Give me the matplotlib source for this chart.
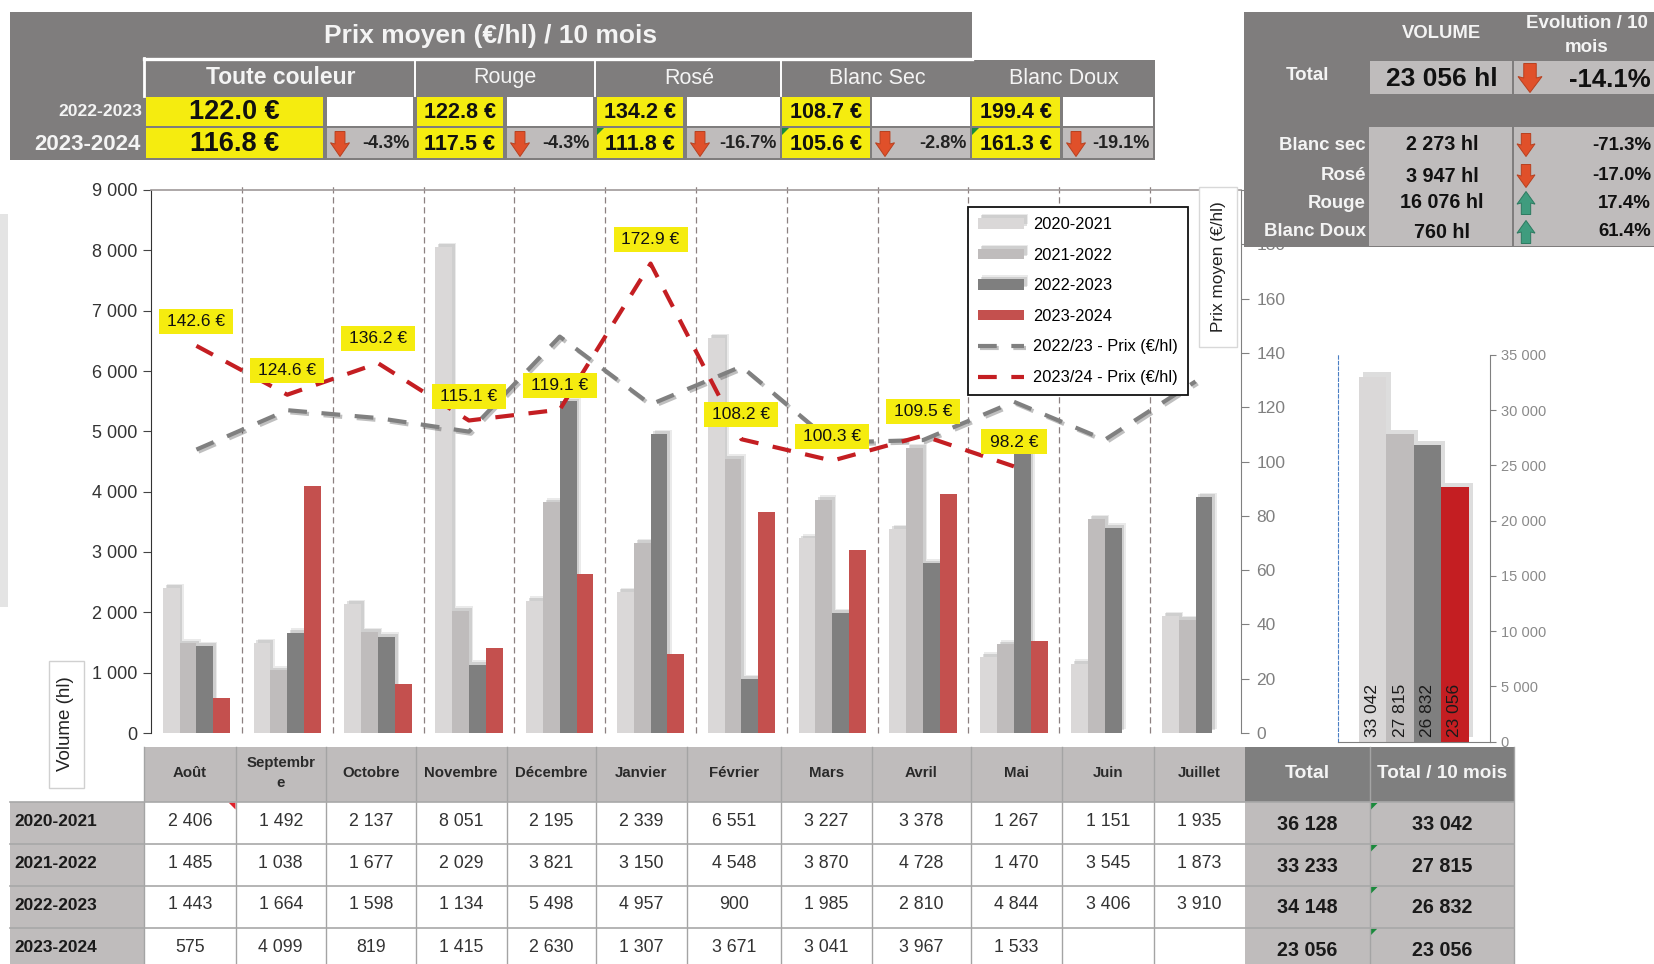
import numpy as np
import matplotlib
matplotlib.use('Agg')
import matplotlib.pyplot as plt
import matplotlib.patheffects as pe
from matplotlib.patches import Rectangle, Polygon
from matplotlib.transforms import Affine2D

plt.rcParams['font.family'] = ['Liberation Sans', 'DejaVu Sans']

W, H = 1654, 964

months = ['Août', 'Septembre', 'Octobre', 'Novembre', 'Décembre', 'Janvier', 'Février',
          'Mars', 'Avril', 'Mai', 'Juin', 'Juillet']
seasons = ['2020-2021', '2021-2022', '2022-2023', '2023-2024']
vol_2021 = [2406, 1492, 2137, 8051, 2195, 2339, 6551, 3227, 3378, 1267, 1151, 1935]
vol_2122 = [1485, 1038, 1677, 2029, 3821, 3150, 4548, 3870, 4728, 1470, 3545, 1873]
vol_2223 = [1443, 1664, 1598, 1134, 5498, 4957, 900, 1985, 2810, 4844, 3406, 3910]
vol_2324 = [575, 4099, 819, 1415, 2630, 1307, 3671, 3041, 3967, 1533]
prix_2223 = [104.4, 118.9, 116, 111, 146, 121, 135, 107, 107.9, 122, 108, 129.5]
prix_2324 = [142.6, 124.6, 136.2, 115.1, 119.1, 172.9, 108.2, 100.3, 109.5, 98.2]
totaux = [36128, 33233, 34148, 23056]
totaux_10m = [33042, 27815, 26832, 23056]

couleurs = ['Toute couleur', 'Rouge', 'Rosé', 'Blanc Sec', 'Blanc Doux']
prix_moy_2223 = [122.0, 122.8, 134.2, 108.7, 199.4]
prix_moy_2324 = [116.8, 117.5, 111.8, 105.6, 161.3]
evol_prix = [-4.3, -4.3, -16.7, -2.8, -19.1]

vol_labels = ['Blanc sec', 'Rosé', 'Rouge', 'Blanc Doux']
vol_couleurs = ['2 273 hl', '3 947 hl', '16 076 hl', '760 hl']
evol_couleurs = [-71.3, -17.0, 17.4, 61.4]

DARK = '#7f7d7d'
LIGHT = '#bfbcbc'
PALE = '#dad8d8'
MID = '#7f7f7f'
BRICK = '#c4504e'
RED = '#c41e22'
YELLOW = '#f5ec0f'
TXT = '#2a2a2a'


def sp(v):
    return f'{v:,}'.replace(',', ' ')


def axes_px(x0, y0, x1, y1, **kw):
    return fig.add_axes([x0 / W, 1 - y1 / H, (x1 - x0) / W, (y1 - y0) / H], **kw)


fig = plt.figure(figsize=(W / 100, H / 100), dpi=100, facecolor='white')

# graphique principal
ax = axes_px(151, 190, 1241, 733)
x = np.arange(12)
bw = 0.185
shadow = [pe.SimplePatchShadow(offset=(3, 3), alpha=0.12, shadow_rgbFace='#555555'),
          pe.SimplePatchShadow(offset=(2, 2), alpha=0.18, shadow_rgbFace='#555555'),
          pe.Normal()]
ax.bar(x - 1.5 * bw, vol_2021, bw, color=PALE, label=seasons[0], path_effects=shadow)
ax.bar(x - 0.5 * bw, vol_2122, bw, color=LIGHT, label=seasons[1], path_effects=shadow)
ax.bar(x + 0.5 * bw, vol_2223, bw, color=MID, label=seasons[2], path_effects=shadow)
ax.bar(x[:len(vol_2324)] + 1.5 * bw, vol_2324, bw, color=BRICK, label=seasons[3])
ax.set_xlim(-0.5, 11.5)
ax.set_ylim(0, 9000)
ax.set_yticks(range(0, 9001, 1000))
ax.yaxis.set_major_formatter(lambda v, p: sp(int(v)))
ax.set_xticks([])
ax.tick_params(axis='y', labelsize=13, labelcolor='#333333', color='#444444', length=6, pad=4)
ax.vlines(x[1:] - 0.5, 0, 9080, color='#8c8080', lw=0.9, ls=(0, (5, 3)), clip_on=False)
for s in ['right', 'bottom']:
    ax.spines[s].set_visible(False)
ax.spines['top'].set_color('#a09a9a')
ax.spines['top'].set_linewidth(1.2)
ax.spines['left'].set_color('#333333')

ax2 = ax.twinx()
ax2.set_ylim(0, 200)
ax2.set_yticks(range(0, 201, 20))
ax2.tick_params(axis='y', labelsize=12.5, labelcolor='#808080', color='#808080', length=6, pad=5)
for s in ['top', 'left', 'bottom']:
    ax2.spines[s].set_visible(False)
ax2.spines['right'].set_color('#808080')
line_fx = [pe.SimpleLineShadow(offset=(1.5, -1.5), alpha=0.25), pe.Normal()]
ax2.plot(x, prix_2223, color='#808080', lw=3, ls=(0, (4.5, 3.5)),
         label='2022/23 - Prix (€/hl)', path_effects=line_fx)
ax2.plot(x[:len(prix_2324)], prix_2324, color=RED, lw=3, ls=(0, (4.5, 3.5)),
         label='2023/24 - Prix (€/hl)')

# etiquettes de prix, decalees au dessus de chaque point
for i, v in enumerate(prix_2324):
    px, py = ax2.transData.transform((i, v))
    bx = 37 if v >= 100 else 33
    ax2.add_patch(Rectangle((px - bx, py + 12), 2 * bx, 25, color=YELLOW, lw=0, zorder=5,
                            transform=Affine2D(), clip_on=False))
    ax2.annotate(f'{v} €', (i, v), xytext=(0, 17.5), textcoords='offset points', ha='center',
                 va='center', fontsize=12.5, color='#111111', zorder=6)

h1, l1 = ax.get_legend_handles_labels()
h2, l2 = ax2.get_legend_handles_labels()
leg = ax2.legend(h1 + h2, l1 + l2, loc='upper left', bbox_to_anchor=(968 / W, 1 - 207 / H),
                 bbox_transform=fig.transFigure, borderaxespad=0, fontsize=11.8, frameon=True,
                 fancybox=False, framealpha=1, edgecolor='#111111', handlelength=2.8,
                 handleheight=0.6, labelspacing=0.95, borderpad=0.62, handletextpad=0.55)
leg.get_frame().set_linewidth(1.3)
leg.set_zorder(10)

# petit graphique des totaux
ax3 = axes_px(1338, 355, 1489.5, 741.5)
ax3.patch.set_alpha(0)
xt = np.arange(4)
ax3.bar(xt, totaux_10m, 1.0, color=[PALE, LIGHT, MID, RED], path_effects=[
    pe.SimplePatchShadow(offset=(3, 3), alpha=0.2, shadow_rgbFace='#555555'), pe.Normal()])
ax3.set_xlim(-1.27, 4.26)
ax3.set_ylim(0, 35000)
ax3.set_xticks([])
ax3.set_yticks(range(0, 35001, 5000))
ax3.yaxis.set_major_formatter(lambda v, p: sp(int(v)))
ax3.yaxis.tick_right()
ax3.tick_params(axis='y', labelsize=10.5, labelcolor='#8a8a8a', color='#808080', length=4, pad=4)
ax3.spines['top'].set_visible(False)
ax3.spines['right'].set_color('#808080')
ax3.spines['bottom'].set_color('#808080')
ax3.spines['left'].set_color('#4a7fc4')
ax3.spines['left'].set_linestyle((0, (3, 2)))
for i, v in enumerate(totaux_10m):
    ax3.text(i, 450, sp(v), rotation=90, ha='center', va='bottom', fontsize=12.5, color='#1a1a1a')

# calque en pixels pour les tableaux
ov = fig.add_axes([0, 0, 1, 1], zorder=20)
ov.set_xlim(0, W)
ov.set_ylim(H, 0)
ov.axis('off')
ov.patch.set_alpha(0)


def rect(x0, y0, x1, y1, color, ec='none', lw=0):
    ov.add_patch(Rectangle((x0, y0), x1 - x0, y1 - y0, facecolor=color, edgecolor=ec, linewidth=lw))


def label(xp, yp, s, size=13, color=TXT, bold=False, ha='center', **kw):
    ov.text(xp, yp, s, fontsize=size, color=color, ha=ha, va='center',
            fontweight='bold' if bold else 'normal', **kw)


def arrow(cx, cy, w, h, up=False):
    pts = np.array([(-0.26, -0.5), (0.26, -0.5), (0.26, 0.0), (0.5, -0.05), (0, 0.5), (-0.5, -0.05), (-0.26, 0.0)])
    if up:
        pts = pts * [1, -1]
    col, ec = ('#3f9c7e', '#2c7a60') if up else ('#e0502a', '#b8401f')
    ov.add_patch(Polygon(np.c_[cx + pts[:, 0] * w, cy + pts[:, 1] * h], closed=True, facecolor=col,
                         edgecolor=ec, linewidth=0.7))


def corner(x0, y0, color='#1a8a3c', size=7, right=False):
    d = -size if right else size
    ov.add_patch(Polygon([(x0, y0), (x0 + d, y0), (x0, y0 + size)], closed=True, facecolor=color, edgecolor='none'))


# bande grise a gauche
rect(0, 214, 8, 607, '#e4e4e4')

# bandeau prix moyen
rect(9.5, 12, 972, 60, DARK)
rect(9.5, 60, 144, 160, DARK)
rect(144, 60, 1155, 160, DARK)
ov.plot([144, 972], [58.5, 58.5], color='white', lw=2.4)
ov.plot([144, 144], [58, 96], color='white', lw=2)
for xs in [414.5, 595, 781]:
    ov.plot([xs, xs], [60, 96], color='white', lw=1.4)
label(491, 36, 'Prix moyen (€/hl) / 10 mois', 19, '#f4f4f4', True)
label(142, 112, seasons[2], 12.6, '#f4f4f4', True, ha='right')
label(141, 145, seasons[3], 16, '#f4f4f4', True, ha='right')

col_val = [(146, 323), (417, 503), (597, 683), (782, 870), (972, 1060)]
col_del = [(327, 413), (507, 593), (687, 780), (872, 970), (1063, 1153)]
head_x = [280.5, 505, 689, 877, 1064]
for i, nom in enumerate(couleurs):
    big = i == 0
    label(head_x[i], 78, nom, 16.5 if big else 15.5, '#f4f4f4', big)
    v0, v1 = col_val[i]
    d0, d1 = col_del[i]
    rect(v0, 97, v1, 126, YELLOW)
    rect(v0, 128, v1, 158, YELLOW)
    rect(d0, 97, d1, 126, 'white')
    rect(d0, 128, d1, 158, LIGHT)
    fs = 19.5 if big else 15.5
    label((v0 + v1) / 2, 112, f'{prix_moy_2223[i]:.1f} €', fs, '#111111', True)
    label((v0 + v1) / 2, 144, f'{prix_moy_2324[i]:.1f} €', fs, '#111111', True)
    arrow(d0 + 13, 144, 19, 25)
    label(d1 - 3, 144, f'{evol_prix[i]:.1f}%', 13, '#222222', True, ha='right')
for i in [2, 3, 4]:
    corner(col_val[i][0], 128)

# bandeau volume
rect(1243.5, 12, W, 247, DARK)
rect(1370, 61, 1512, 94, LIGHT)
rect(1514, 61, W, 94, LIGHT)
rect(1369, 127, 1512, 246, LIGHT)
rect(1514, 127, W, 246, LIGHT)
label(1442, 34, 'VOLUME', 13.3, '#f4f4f4', True)
label(1587, 24, 'Evolution / 10', 13.5, '#f4f4f4', True)
label(1587, 48, 'mois', 13.5, '#f4f4f4', True)
label(1308, 76, 'Total', 13.5, '#f4f4f4', True)
label(1442, 79, '23 056 hl', 19, '#111111', True)
arrow(1530, 78, 24, 29)
label(1651, 80, '-14.1%', 18.5, '#111111', True, ha='right')
rows_y = [145, 176, 203, 232]
for lab, vol, ev, yy in zip(vol_labels, vol_couleurs, evol_couleurs, rows_y):
    label(1366, yy, lab, 13.4, '#f4f4f4', True, ha='right')
    label(1442, yy, vol, 14.2, '#111111', True)
    arrow(1526, yy, 18, 23, up=ev > 0)
    label(1651, yy, f'{ev:.1f}%', 13.4, '#111111', True, ha='right')

# boites des titres d'axes
rect(1199, 187, 1237, 347, 'white', '#d8d8d8', 1)
label(1218, 267, 'Prix moyen (€/hl)', 12.4, '#222222', rotation=90)
rect(49, 661, 84, 788, 'white', '#d0d0d0', 1)
label(66, 724, 'Volume (hl)', 13.5, '#222222', rotation=90)

# tableau du bas
xs = [144, 235.5, 326, 415.5, 506.5, 595.5, 686.5, 781, 872, 971, 1062, 1154, 1244.5]
ys = [802, 844, 886, 927.5, 968]
rect(144, 747, 1244.5, 802, LIGHT)
rect(1244.5, 747, 1514, 802, MID)
rect(10, 802, 144, 964, LIGHT)
rect(144, 802, 1244.5, 964, 'white')
rect(1244.5, 802, 1514, 964, LIGHT)
for xv in xs[:-1]:
    ov.plot([xv, xv], [747, 964], color='#a4a4a4', lw=1)
for xv in [1370, 1514]:
    ov.plot([xv, xv], [747, 964], color='#a4a4a4', lw=1)
for yv in ys[:-1]:
    ov.plot([10, 1514], [yv, yv], color='#a8a8a8', lw=1.2)

for i, m in enumerate(months):
    cx = (xs[i] + xs[i + 1]) / 2
    if m == 'Septembre':
        label(cx, 763, 'Septembr', 10.8, TXT, True)
        label(cx, 783, 'e', 10.8, TXT, True)
    else:
        label(cx, 773, m, 10.8, TXT, True)
label(1307, 774, 'Total', 14, '#f4f4f4', True)
label(1442, 774, 'Total / 10 mois', 13.6, '#f4f4f4', True)

series = [vol_2021, vol_2122, vol_2223, vol_2324]
row_y = [821, 863, 904.5, 947]
for r, vals in enumerate(series):
    label(14, row_y[r] + 1, seasons[r], 12.4, '#1a1a1a', True, ha='left')
    for i, v in enumerate(vals):
        label((xs[i] + xs[i + 1]) / 2, row_y[r], sp(v), 12.8, '#333333')
    label(1307, row_y[r] + 3, sp(totaux[r]), 14.2, '#1a1a1a', True)
    label(1442, row_y[r] + 3, sp(totaux_10m[r]), 14.2, '#1a1a1a', True)
    corner(1370.5, ys[r] + 1)
corner(235.5, 802.5, color='#e0202a', size=7, right=True)

fig.savefig('out.png', dpi=100, facecolor='white')
